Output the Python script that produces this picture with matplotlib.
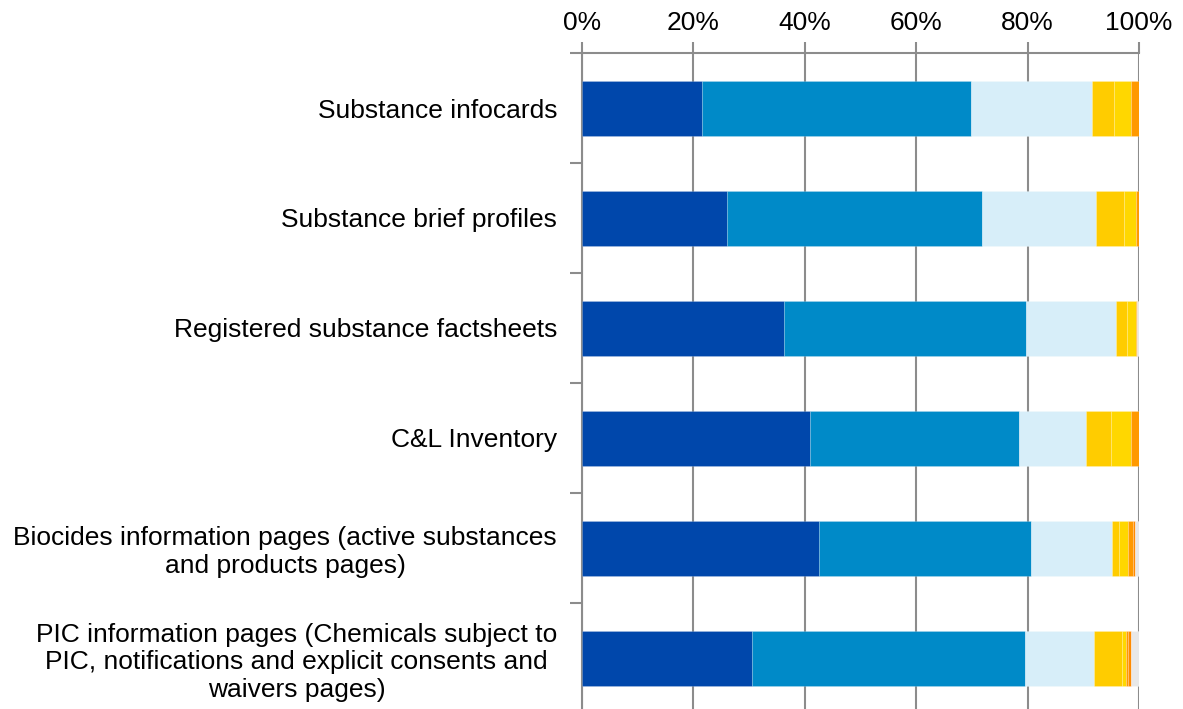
import numpy as np
import matplotlib
matplotlib.use('Agg')
import matplotlib.pyplot as plt
from matplotlib.ticker import FixedLocator, PercentFormatter

plt.rcParams['font.family'] = ['Liberation Sans', 'DejaVu Sans']

categories = [
    'Substance infocards',
    'Substance brief profiles',
    'Registered substance factsheets',
    'C&L Inventory',
    'Biocides information pages (active substances\nand products pages)',
    'PIC information pages (Chemicals subject to\nPIC, notifications and explicit consents and\nwaivers pages)',
]

# share of answers per category (%)
dark_blue = [21.6, 26.1, 36.2, 41.0, 42.5, 30.5]
mid_blue = [48.2, 45.8, 43.6, 37.5, 38.2, 49.1]
light_blue = [21.8, 20.4, 16.0, 11.9, 14.5, 12.4]
yellow = [3.9, 5.0, 2.1, 4.6, 1.2, 4.9]
yellow2 = [3.0, 2.2, 1.5, 3.5, 1.6, 0.8]
orange = [1.5, 0.5, 0.2, 1.5, 1.0, 0.3]
orange2 = [0.0, 0.0, 0.0, 0.0, 0.2, 0.5]
grey = [0.0, 0.0, 0.5, 0.0, 0.8, 1.5]

series = [dark_blue, mid_blue, light_blue, yellow, yellow2, orange, orange2, grey]
colors = ['#0047AB', '#008AC8', '#D7EEF9', '#FFCC00', '#FFD700', '#FF9900', '#FF8A00', '#E8E8E8']

fig = plt.figure(figsize=(11.83, 7.09), dpi=100)
ax = fig.add_axes([582 / 1183, -4 / 709, 557 / 1183, 660 / 709])

y = np.arange(len(categories))
left = np.zeros(len(categories))
for vals, col in zip(series, colors):
    vals = np.array(vals)
    ax.barh(y, vals, left=left, height=0.5, color=col,
            edgecolor=(1, 1, 1, 0.3), linewidth=0.4, zorder=3)
    left += vals

ax.set_xlim(0, 100)
ax.set_ylim(len(categories) - 0.5, -0.5)

gc = '#8C8C8C'
ax.xaxis.tick_top()
ax.set_xticks([0, 20, 40, 60, 80, 100])
ax.xaxis.set_major_formatter(PercentFormatter(decimals=0))
ax.tick_params(axis='x', which='major', length=8, width=1.5, color=gc, labelsize=19, pad=5)
ax.grid(axis='x', color=gc, linewidth=1.5, zorder=0)

ax.set_yticks(y)
ax.set_yticklabels(categories, multialignment='center')
ax.tick_params(axis='y', which='major', length=0, labelsize=19, pad=18)
ax.yaxis.set_minor_locator(FixedLocator(np.arange(-0.5, len(categories), 1.0)))
ax.tick_params(axis='y', which='minor', length=9, width=1.5, color=gc)

for s in ['right', 'bottom']:
    ax.spines[s].set_visible(False)
for s in ['left', 'top']:
    ax.spines[s].set_color(gc)
    ax.spines[s].set_linewidth(1.5)

fig.savefig('out.png', dpi=100)
